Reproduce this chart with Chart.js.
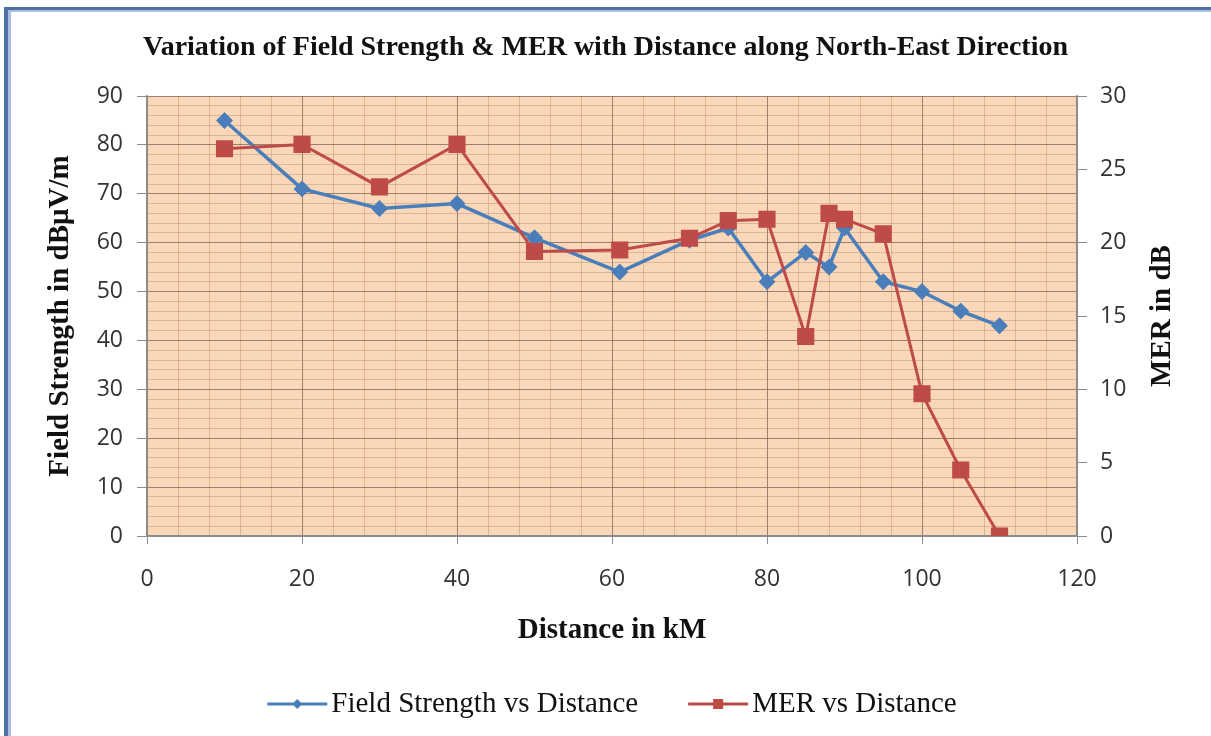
<!DOCTYPE html>
<html>
<head>
<meta charset="utf-8">
<script src="https://cdn.jsdelivr.net/npm/chart.js@4.4.0/dist/chart.umd.min.js"></script>
<style>
  html, body { margin: 0; padding: 0; background: #fff; }
  #wrap { width: 1211px; height: 736px; position: relative; }
</style>
</head>
<body>
<div id="wrap"><canvas id="chart" width="1211" height="736"></canvas></div>
<script>
// data
const distanceKm    = [10, 20, 30, 40, 50, 61, 70, 75, 80, 85, 88, 90, 95, 100, 105, 110];
const fieldStrength = [85, 71, 67, 68, 61, 54, 60.5, 63, 52, 58, 55, 63, 52, 50, 46, 43];
const merDb         = [26.4, 26.7, 23.8, 26.7, 19.4, 19.5, 20.3, 21.5, 21.6, 13.6, 22.0, 21.6, 20.6, 9.7, 4.5, 0];

const xTickLabels     = [0, 20, 40, 60, 80, 100, 120];
const leftTickLabels  = [0, 10, 20, 30, 40, 50, 60, 70, 80, 90];
const rightTickLabels = [0, 5, 10, 15, 20, 25, 30];

const BLUE = '#4A7EBB';
const RED = '#BE4B48';
const PLOT_BG = '#F9D7B8';
const GRID_MINOR = 'rgba(175,135,105,0.4)';
const GRID_MAJOR = 'rgba(120,100,85,0.75)';
const AXIS = '#8C8C8C';
const TICK_FONT = { family: '"Open Sans"', size: 23 };
const SERIF = '"Liberation Serif", "DejaVu Serif", serif';
const AXIS_TITLE_FONT = { family: SERIF, size: 29, weight: 'bold' };

const toPoints = (xs, ys) => xs.map((x, i) => ({ x: x, y: ys[i] }));

const pagePlugin = {
  id: 'page',
  beforeDraw(chart) {
    const { ctx, chartArea: a } = chart;
    ctx.save();
    ctx.fillStyle = '#fff';
    ctx.fillRect(0, 0, chart.width, chart.height);
    ctx.fillStyle = PLOT_BG;
    ctx.fillRect(a.left, a.top, a.right - a.left, a.bottom - a.top);
    // frame of the original picture (left and top edges)
    ctx.fillStyle = '#4F6FA5';
    ctx.fillRect(4, 8, 4, chart.height - 8);
    ctx.fillRect(4, 7, chart.width - 4, 3);
    ctx.fillStyle = '#A9BFE0';
    ctx.fillRect(8, 10, 3, chart.height - 10);
    ctx.fillRect(8, 10, chart.width - 8, 2);
    ctx.restore();
  },
  afterDraw(chart) {
    const { ctx, chartArea: a } = chart;
    ctx.save();
    // right axis title, reads bottom to top
    ctx.font = 'bold 29px ' + SERIF;
    ctx.fillStyle = '#111';
    ctx.textAlign = 'center';
    ctx.textBaseline = 'middle';
    ctx.translate(1163, (a.top + a.bottom) / 2);
    ctx.rotate(-Math.PI / 2);
    ctx.fillText('MER in dB', 0, 0);
    ctx.restore();

    // legend: line with marker, then label
    ctx.save();
    ctx.font = '29px ' + SERIF;
    ctx.textBaseline = 'middle';
    ctx.textAlign = 'left';
    const symW = 60, gap = 4, itemGap = 50, y = 704;
    const sets = chart.data.datasets;
    const widths = sets.map(d => ctx.measureText(d.label).width);
    let total = itemGap * (sets.length - 1);
    widths.forEach(w => { total += symW + gap + w; });
    let x = (a.left + a.right) / 2 - total / 2;
    sets.forEach((d, i) => {
      ctx.strokeStyle = d.borderColor;
      ctx.fillStyle = d.borderColor;
      ctx.lineWidth = 3;
      ctx.beginPath();
      ctx.moveTo(x, y);
      ctx.lineTo(x + symW, y);
      ctx.stroke();
      const cx = x + symW / 2;
      ctx.beginPath();
      if (d.pointStyle === 'rect') {
        ctx.rect(cx - 5, y - 5, 10, 10);
      } else {
        ctx.moveTo(cx, y - 5); ctx.lineTo(cx + 5, y); ctx.lineTo(cx, y + 5); ctx.lineTo(cx - 5, y); ctx.closePath();
      }
      ctx.fill();
      ctx.fillStyle = '#111';
      ctx.fillText(d.label, x + symW + gap, y);
      x += symW + gap + widths[i] + itemGap;
    });
    ctx.restore();
  }
};

const majorOr = (step, major, minor) => c => (c.tick && Math.round(c.tick.value) % step === 0 ? major : minor);

new Chart(document.getElementById('chart'), {
  type: 'line',
  data: {
    datasets: [
      {
        label: 'Field Strength vs Distance',
        data: toPoints(distanceKm, fieldStrength),
        yAxisID: 'y',
        borderColor: BLUE,
        backgroundColor: BLUE,
        borderWidth: 3.5,
        pointStyle: 'rectRot',
        pointRadius: 6,
        pointHoverRadius: 6,
        tension: 0,
        order: 2
      },
      {
        label: 'MER vs Distance',
        data: toPoints(distanceKm, merDb),
        yAxisID: 'y2',
        borderColor: RED,
        backgroundColor: RED,
        borderWidth: 3,
        pointStyle: 'rect',
        pointRadius: 10,
        pointHoverRadius: 10,
        tension: 0,
        order: 1
      }
    ]
  },
  options: {
    responsive: false,
    animation: false,
    devicePixelRatio: 1,
    layout: { padding: { left: 0, right: 0, top: 0, bottom: 76 } },
    plugins: {
      legend: { display: false },
      tooltip: { enabled: false },
      title: {
        display: true,
        text: 'Variation of Field Strength & MER with Distance along North-East Direction',
        color: '#111',
        font: { family: SERIF, size: 28, weight: 'bold' },
        padding: { top: 31, bottom: 31.4 }
      }
    },
    scales: {
      x: {
        type: 'linear',
        min: 0,
        max: 120,
        ticks: {
          stepSize: 4,
          autoSkip: false,
          maxRotation: 0,
          padding: 22,
          color: '#333',
          font: TICK_FONT,
          callback: v => (xTickLabels.includes(v) ? v : '')
        },
        grid: {
          color: majorOr(20, GRID_MAJOR, GRID_MINOR),
          tickColor: majorOr(20, AXIS, 'rgba(0,0,0,0)'),
          tickLength: 8
        },
        border: { color: AXIS, width: 1.5 },
        title: {
          display: true,
          text: 'Distance in kM',
          color: '#111',
          font: AXIS_TITLE_FONT,
          padding: { top: 0, bottom: 12 }
        },
        afterFit: s => { s.height = 124; }
      },
      y: {
        position: 'left',
        min: 0,
        max: 90,
        ticks: {
          stepSize: 2,
          autoSkip: false,
          padding: 14,
          color: '#333',
          font: TICK_FONT,
          callback: v => (leftTickLabels.includes(v) ? v : '')
        },
        grid: {
          color: majorOr(10, GRID_MAJOR, GRID_MINOR),
          tickColor: majorOr(10, AXIS, 'rgba(0,0,0,0)'),
          tickLength: 10
        },
        border: { color: AXIS, width: 1.5 },
        title: {
          display: true,
          text: 'Field Strength in dBμV/m',
          color: '#111',
          font: AXIS_TITLE_FONT,
          padding: { top: 43, bottom: 0 }
        },
        afterFit: s => { s.width = 147; }
      },
      y2: {
        position: 'right',
        min: 0,
        max: 30,
        ticks: {
          stepSize: 5,
          padding: 13,
          color: '#333',
          font: TICK_FONT,
          callback: v => (rightTickLabels.includes(v) ? v : '')
        },
        grid: { drawOnChartArea: false, tickColor: AXIS, tickLength: 10 },
        border: { color: AXIS, width: 1.5 },
        afterFit: s => { s.width = 134; }
      }
    }
  },
  plugins: [pagePlugin]
});
</script>
</body>
</html>
